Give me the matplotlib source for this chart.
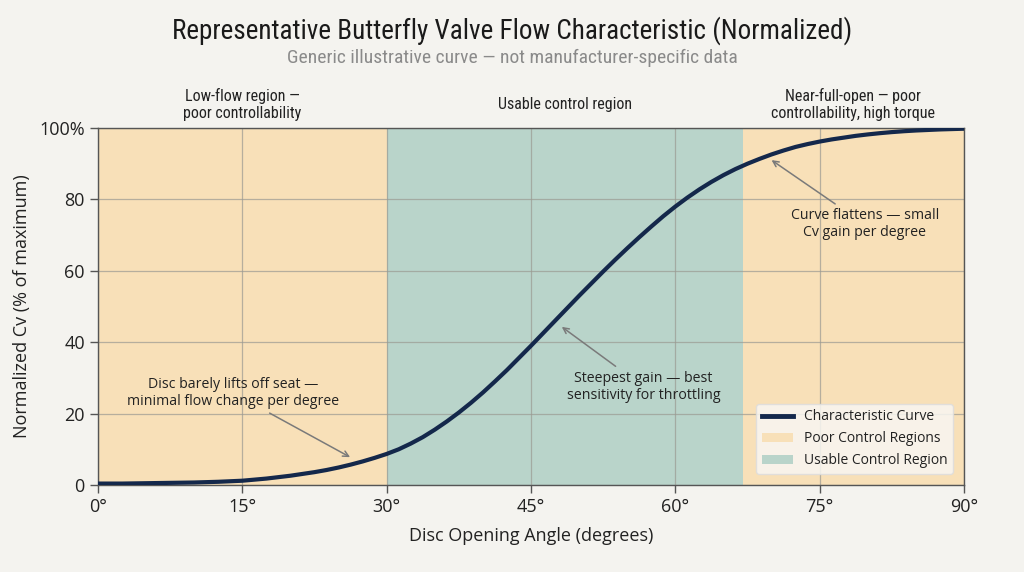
import matplotlib
matplotlib.use("Agg")
import matplotlib.pyplot as plt
from matplotlib.patches import Patch
from matplotlib.lines import Line2D

# ---- data ----
angles = [0, 1.25, 2.5, 3.75, 5, 6.25, 7.5, 8.75, 10, 11.25, 12.5, 13.75, 15, 16.25,
          17.5, 18.75, 20, 21.25, 22.5, 23.75, 25, 26.25, 27.5, 28.75, 30, 31.25,
          32.5, 33.75, 35, 36.25, 37.5, 38.75, 40, 41.25, 42.5, 43.75, 45, 46.25,
          47.5, 48.75, 50, 51.25, 52.5, 53.75, 55, 56.25, 57.5, 58.75, 60, 61.25,
          62.5, 63.75, 65, 66.25, 67.5, 68.75, 70, 71.25, 72.5, 73.75, 75, 76.25,
          77.5, 78.75, 80, 81.25, 82.5, 83.75, 85, 86.25, 87.5, 88.75, 90]
cv_pct = [0.4, 0.4, 0.4, 0.45, 0.5, 0.55, 0.6, 0.65, 0.7, 0.8, 0.9, 1.05, 1.2, 1.5,
          1.8, 2.2, 2.6, 3.1, 3.6, 4.2, 4.9, 5.7, 6.6, 7.6, 8.7, 10.0,
          11.6, 13.4, 15.5, 17.8, 20.3, 23.0, 25.9, 29.0, 32.2, 35.6, 39.0, 42.5,
          46.0, 49.5, 53.0, 56.4, 59.8, 63.1, 66.3, 69.4, 72.4, 75.3, 78.0, 80.5,
          82.8, 84.9, 86.8, 88.5, 90.0, 91.35, 92.6, 93.7, 94.7, 95.5, 96.2, 96.8,
          97.3, 97.8, 98.2, 98.55, 98.85, 99.1, 99.3, 99.45, 99.6, 99.7, 99.8]
poor_regions = [(0, 30), (67, 90)]
usable_region = (30, 67)
x_ticks = [0, 15, 30, 45, 60, 75, 90]
x_tick_labels = ["0°", "15°", "30°", "45°", "60°", "75°", "90°"]
y_ticks = [0, 20, 40, 60, 80, 100]
y_tick_labels = ["0", "20", "40", "60", "80", "100%"]
region_labels = ["Low-flow region —\npoor controllability",
                 "Usable control region",
                 "Near-full-open — poor\ncontrollability, high torque"]

BG = "#f4f3ef"
ORANGE = "#f8e0b8"
GREEN = "#b9d4ca"
NAVY = "#14284b"
GREY = "#7a7a7a"
COND = ['Roboto Condensed', 'Roboto', 'DejaVu Sans']

plt.rcParams['font.family'] = ['Open Sans', 'DejaVu Sans']

fig = plt.figure(figsize=(10.24, 5.72), dpi=100, facecolor=BG)
ax = fig.add_axes([98/1024, 1-485/572, (964-98)/1024, (485-128)/572])
ax.set_facecolor(BG)

for a, b in poor_regions:
    ax.axvspan(a, b, color=ORANGE, zorder=0, lw=0)
ax.axvspan(*usable_region, color=GREEN, zorder=0, lw=0)

ax.grid(True, color="#9a9a92", lw=0.9, alpha=0.7, zorder=1)
ax.plot(angles, cv_pct, color=NAVY, lw=3.0, zorder=3,
        solid_capstyle='round', solid_joinstyle='round')

ax.set_xlim(0, 90)
ax.set_ylim(0, 100)
ax.set_xticks(x_ticks)
ax.set_xticklabels(x_tick_labels, fontsize=13, color="#222")
ax.set_yticks(y_ticks)
ax.set_yticklabels(y_tick_labels, fontsize=13, color="#222")
ax.tick_params(length=6, color="#555", width=1)
for s in ax.spines.values():
    s.set_color("#555")
    s.set_linewidth(1)

ax.set_xlabel("Disc Opening Angle (degrees)", fontsize=13, color="#222", labelpad=8)
ax.set_ylabel("Normalized Cv (% of maximum)", fontsize=13, color="#222", labelpad=6)

# region labels above axes
centers = [(poor_regions[0][0] + poor_regions[0][1]) / 2,
           (usable_region[0] + usable_region[1]) / 2,
           (poor_regions[1][0] + poor_regions[1][1]) / 2]
for c, t in zip(centers, region_labels):
    ax.text(c, 106.5, t, ha='center', va='center', fontsize=11.5, color="#222",
            linespacing=1.15, family=COND)

arrow = dict(arrowstyle='->', color=GREY, lw=1.1, shrinkA=2, shrinkB=0)
ann_fs = 10.2
ax.annotate("Disc barely lifts off seat —\nminimal flow change per degree",
            xy=(26.2, 7.8), xytext=(14, 25.8), ha='center', va='center',
            fontsize=ann_fs, color="#222", arrowprops=arrow, zorder=4)
ax.annotate("Steepest gain — best\nsensitivity for throttling",
            xy=(48.2, 44.3), xytext=(56.7, 27.5), ha='center', va='center',
            fontsize=ann_fs, color="#222", arrowprops=arrow, zorder=4)
ax.annotate("Curve flattens — small\nCv gain per degree",
            xy=(70, 91), xytext=(79.7, 73), ha='center', va='center',
            fontsize=ann_fs, color="#222", arrowprops=arrow, zorder=4)

handles = [Line2D([0], [0], color=NAVY, lw=3.5),
           Patch(facecolor=ORANGE, edgecolor='none'),
           Patch(facecolor=GREEN, edgecolor='none')]
labels = ["Characteristic Curve", "Poor Control Regions", "Usable Control Region"]
leg = ax.legend(handles, labels, loc='lower right', fontsize=10, frameon=True,
                fancybox=True, framealpha=0.85, facecolor="#f8f6f2",
                edgecolor="#dddddd", borderaxespad=0.8, handlelength=2.2)
for t in leg.get_texts():
    t.set_color("#222")

fig.text(0.5, 1-31/572, "Representative Butterfly Valve Flow Characteristic (Normalized)",
         ha='center', va='center', fontsize=19.5, color="#1a1a1a", family=COND)
fig.text(0.5, 1-58/572, "Generic illustrative curve — not manufacturer-specific data",
         ha='center', va='center', fontsize=14, color="#8a8a8a", family=COND)

fig.savefig("out.png", dpi=100, facecolor=BG)
